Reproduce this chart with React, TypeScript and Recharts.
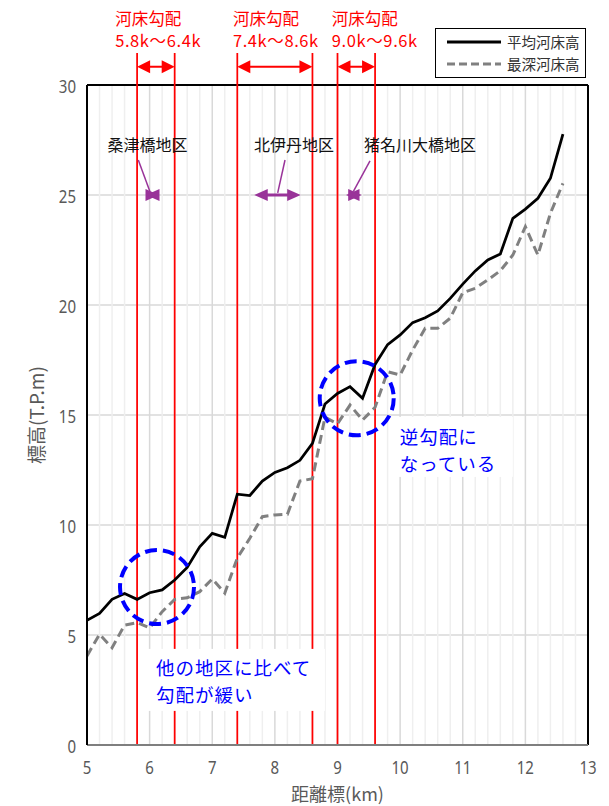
import React from 'react';
import {
  LineChart,
  Line,
  XAxis,
  YAxis,
  CartesianGrid,
  ReferenceLine,
  ReferenceDot,
  Legend,
} from 'recharts';

// ---- data ----
const km = [
  5.0, 5.2, 5.4, 5.6, 5.8, 6.0, 6.2, 6.4, 6.6, 6.8, 7.0, 7.2, 7.4, 7.6, 7.8, 8.0,
  8.2, 8.4, 8.6, 8.8, 9.0, 9.2, 9.4, 9.6, 9.8, 10.0, 10.2, 10.4, 10.6, 10.8, 11.0,
  11.2, 11.4, 11.6, 11.8, 12.0, 12.2, 12.4, 12.6,
];
const avgBed = [
  5.67, 5.98, 6.62, 6.89, 6.62, 6.92, 7.05, 7.5, 8.07, 9.01, 9.62, 9.44, 11.4, 11.34,
  12.0, 12.39, 12.6, 12.94, 13.71, 15.5, 15.98, 16.29, 15.76, 17.3, 18.2, 18.64,
  19.2, 19.42, 19.73, 20.3, 20.95, 21.55, 22.05, 22.32, 23.94, 24.36, 24.85, 25.76,
  27.77,
];
const deepBed = [
  4.05, 5.03, 4.42, 5.45, 5.56, 5.32, 6.06, 6.62, 6.69, 6.97, 7.55, 6.9, 8.5, 9.4,
  10.38, 10.46, 10.49, 12.0, 12.1, 14.9, 14.6, 15.45, 14.77, 15.35, 16.97, 16.82,
  17.95, 18.94, 18.94, 19.4, 20.56, 20.76, 21.14, 21.56, 22.27, 23.56, 22.27, 24.17,
  25.53,
];
const seriesAvgName = '平均河床高';
const seriesDeepName = '最深河床高';

const xTicks = [5, 6, 7, 8, 9, 10, 11, 12, 13];
const yTicks = [0, 5, 10, 15, 20, 25, 30];

const sections = [
  { from: 5.8, to: 6.4, label: '5.8k～6.4k', textX: 5.45 },
  { from: 7.4, to: 8.6, label: '7.4k～8.6k', textX: 7.33 },
  { from: 9.0, to: 9.6, label: '9.0k～9.6k', textX: 8.91 },
];

const districts = [
  { name: '桑津橋地区', tx: 5.966, ty: 27.32, p1: [5.819, 26.59], p2: [6.006, 25.15], a1: 5.942, a2: 6.15 },
  { name: '北伊丹地区', tx: 8.305, ty: 27.32, p1: [8.162, 26.59], p2: [8.045, 25.1], a1: 7.671, a2: 8.412 },
  { name: '猪名川大橋地区', tx: 10.317, ty: 27.32, p1: [9.519, 26.55], p2: [9.252, 25.15], a1: 9.136, a2: 9.386 },
];

const circles = [
  { x: 6.118, y: 7.18 },
  { x: 9.307, y: 15.76 },
];

const notes = [
  { lines: ['他の地区に比べて', '勾配が緩い'], x: 6.1, y: 3.55, box: [-8, -18, 177, 62] },
  { lines: ['逆勾配に', 'なっている'], x: 9.995, y: 14.05, box: [-7, -19, 120, 60] },
];

const minorGrid: number[] = [];
for (let i = 1; i < 40; i++) {
  const v = Math.round((5 + i * 0.2) * 10) / 10;
  if (Math.abs(v - Math.round(v)) > 0.01) minorGrid.push(v);
}
const majorGrid = [6, 7, 8, 9, 10, 11, 12];

const data = km.map((k, i) => ({ km: k, avg: avgBed[i], deep: deepBed[i] }));

// ---- styles ----
const JP = "'Noto Sans CJK JP', 'Noto Sans', sans-serif";
const NUM = "'Noto Sans', 'Noto Sans CJK JP', sans-serif";
const RED = '#ff0000';
const PURPLE = '#993399';
const BLUE = '#0000ff';
const AXIS_TEXT = '#595959';

const doubleArrow = (color: string, headLen: number, halfH: number, sw: number) => (p: any) => {
  const { x1, y1, x2 } = p;
  const y = y1;
  return (
    <g>
      {x2 - x1 > 2 * headLen && (
        <line x1={x1 + headLen - 1} y1={y} x2={x2 - headLen + 1} y2={y} stroke={color} strokeWidth={sw} />
      )}
      <polygon points={`${x1},${y} ${x1 + headLen},${y - halfH} ${x1 + headLen},${y + halfH}`} fill={color} />
      <polygon points={`${x2},${y} ${x2 - headLen},${y - halfH} ${x2 - headLen},${y + halfH}`} fill={color} />
    </g>
  );
};

const XTick = (p: any) => {
  const s = String(p.payload.value);
  return (
    <text
      x={p.x}
      y={p.y + 21}
      textAnchor="middle"
      dominantBaseline="central"
      fontSize={18.5}
      fill={AXIS_TEXT}
      fontFamily={NUM}
      textLength={s.length * 8.6}
      lengthAdjust="spacingAndGlyphs"
    >
      {s}
    </text>
  );
};

const YTick = (p: any) => {
  const s = String(p.payload.value);
  return (
    <text
      x={p.x - 11}
      y={p.y}
      textAnchor="end"
      dominantBaseline="central"
      fontSize={18.5}
      fill={AXIS_TEXT}
      fontFamily={NUM}
      textLength={s.length * 8.6}
      lengthAdjust="spacingAndGlyphs"
    >
      {s}
    </text>
  );
};

const LegendBox = (props: any) => {
  const payload = props.payload || [];
  return (
    <div
      style={{
        border: '1.5px solid #000',
        background: '#fff',
        width: 151,
        height: 50,
        boxSizing: 'border-box',
        paddingTop: 2,
        paddingLeft: 10,
      }}
    >
      {payload.map((e: any) => (
        <div key={e.value} style={{ display: 'flex', alignItems: 'center', height: 22 }}>
          <svg width={56} height={8}>
            <line
              x1={1}
              y1={4}
              x2={55}
              y2={4}
              stroke={e.color}
              strokeWidth={3}
              strokeDasharray={e.payload && e.payload.strokeDasharray ? '8 4' : undefined}
            />
          </svg>
          <span style={{ fontSize: 14.5, marginLeft: 5, color: '#333', fontFamily: JP, lineHeight: '22px' }}>
            {e.value}
          </span>
        </div>
      ))}
    </div>
  );
};

export default function App() {
  return (
    <div style={{ position: 'absolute', left: 0, top: 0, width: 609, height: 806, background: '#fff' }}>
      <LineChart
        width={609}
        height={806}
        data={data}
        margin={{ top: 85, right: 21, bottom: 31, left: 27 }}
      >
        <CartesianGrid horizontal vertical={false} stroke="#d9d9d9" strokeWidth={1.5} />
        {minorGrid.map((v) => (
          <ReferenceLine key={'mi' + v} x={v} stroke="#efefef" strokeWidth={1.5} />
        ))}
        {majorGrid.map((v) => (
          <ReferenceLine key={'ma' + v} x={v} stroke="#d9d9d9" strokeWidth={1.5} />
        ))}
        <XAxis
          dataKey="km"
          type="number"
          domain={[5, 13]}
          ticks={xTicks}
          allowDataOverflow
          height={30}
          tickLine={false}
          tickSize={0}
          tickMargin={0}
          axisLine={{ stroke: '#7f7f7f', strokeWidth: 2 }}
          tick={XTick}
          label={{
            content: (p: any) => {
              const vb = p.viewBox || { x: 87, y: 745, width: 501, height: 30 };
              return (
                <text
                  x={vb.x + vb.width / 2}
                  y={vb.y + vb.height + 25.5}
                  textAnchor="middle"
                  fill={AXIS_TEXT}
                  fontSize={18}
                  fontFamily={JP}
                >
                  距離標(km)
                </text>
              );
            },
          }}
        />
        <YAxis
          type="number"
          domain={[0, 30]}
          ticks={yTicks}
          width={60}
          tickLine={false}
          tickSize={0}
          tickMargin={0}
          axisLine={{ stroke: '#000', strokeWidth: 2 }}
          tick={YTick}
          label={{
            content: (p: any) => {
              const vb = p.viewBox || { x: 27, y: 85, height: 660 };
              const cx = vb.x + 8;
              const cy = vb.y + vb.height / 2;
              return (
                <text
                  x={cx}
                  y={cy}
                  transform={`rotate(-90 ${cx} ${cy})`}
                  textAnchor="middle"
                  dominantBaseline="central"
                  fill={AXIS_TEXT}
                  fontSize={19}
                  fontFamily={JP}
                >
                  標高(T.P.m)
                </text>
              );
            },
          }}
        />
        {/* top and right border */}
        <ReferenceLine y={30} stroke="#000" strokeWidth={2} />
        <ReferenceLine x={13} stroke="#000" strokeWidth={2} />

        {/* red section lines */}
        {sections.map((s) => (
          <ReferenceLine
            key={'l1' + s.label}
            segment={[{ x: s.from, y: 0 }, { x: s.from, y: 31.45 }]}
            stroke={RED}
            strokeWidth={1.75}
            ifOverflow="visible"
          />
        ))}
        {sections.map((s) => (
          <ReferenceLine
            key={'l2' + s.label}
            segment={[{ x: s.to, y: 0 }, { x: s.to, y: 31.45 }]}
            stroke={RED}
            strokeWidth={1.75}
            ifOverflow="visible"
          />
        ))}
        {sections.map((s) => (
          <ReferenceLine
            key={'ar' + s.label}
            segment={[{ x: s.from, y: 30.83 }, { x: s.to, y: 30.83 }]}
            ifOverflow="visible"
            shape={doubleArrow(RED, 13, 6.5, 2)}
          />
        ))}

        <Line
          type="linear"
          dataKey="avg"
          name={seriesAvgName}
          stroke="#000"
          strokeWidth={2.75}
          dot={false}
          isAnimationActive={false}
        />
        <Line
          type="linear"
          dataKey="deep"
          name={seriesDeepName}
          stroke="#808080"
          strokeWidth={3}
          strokeDasharray="9 5"
          dot={false}
          isAnimationActive={false}
        />

        {/* district annotations */}
        {districts.map((d) => (
          <ReferenceLine
            key={'pl' + d.name}
            segment={[{ x: d.p1[0], y: d.p1[1] }, { x: d.p2[0], y: d.p2[1] }]}
            stroke={PURPLE}
            strokeWidth={1.5}
            ifOverflow="visible"
          />
        ))}
        {districts.map((d) => (
          <ReferenceLine
            key={'pa' + d.name}
            segment={[{ x: d.a1, y: 25 }, { x: d.a2, y: 25 }]}
            ifOverflow="visible"
            shape={doubleArrow(PURPLE, 13.5, 6, 3)}
          />
        ))}
        {districts.map((d) => (
          <ReferenceDot
            key={'pt' + d.name}
            x={d.tx}
            y={d.ty}
            ifOverflow="visible"
            shape={(p: any) => (
              <text
                x={p.cx}
                y={p.cy}
                textAnchor="middle"
                dominantBaseline="central"
                fontSize={16}
                fill="#111"
                fontFamily={JP}
              >
                {d.name}
              </text>
            )}
          />
        ))}

        {/* section titles */}
        {sections.map((s) => (
          <ReferenceDot
            key={'st' + s.label}
            x={s.textX}
            y={33.05}
            ifOverflow="visible"
            shape={(p: any) => (
              <g fontFamily={JP} fontSize={16.5} fill={RED}>
                <text x={p.cx} y={p.cy} dominantBaseline="central">
                  河床勾配
                </text>
                <text x={p.cx} y={p.cy + 22} dominantBaseline="central" letterSpacing={0.6}>
                  {s.label}
                </text>
              </g>
            )}
          />
        ))}

        {/* notes with white backgrounds */}
        {notes.map((n) => (
          <ReferenceDot
            key={'n' + n.lines[0]}
            x={n.x}
            y={n.y}
            ifOverflow="visible"
            shape={(p: any) => (
              <g>
                <rect
                  x={p.cx + n.box[0]}
                  y={p.cy + n.box[1]}
                  width={n.box[2]}
                  height={n.box[3]}
                  fill="#fff"
                />
                {n.lines.map((t, i) => (
                  <text
                    key={t}
                    x={p.cx}
                    y={p.cy + i * 27}
                    dominantBaseline="central"
                    fontSize={18.5}
                    letterSpacing={1}
                    fill={BLUE}
                    fontFamily={JP}
                  >
                    {t}
                  </text>
                ))}
              </g>
            )}
          />
        ))}

        {/* dashed circles */}
        {circles.map((c) => (
          <ReferenceDot
            key={'c' + c.x}
            x={c.x}
            y={c.y}
            r={37}
            fill="none"
            stroke={BLUE}
            strokeWidth={4}
            strokeDasharray="12 6"
            ifOverflow="visible"
          />
        ))}

        <Legend
          layout="horizontal"
          verticalAlign="middle"
          align="center"
          content={LegendBox}
          wrapperStyle={{ left: 435, top: 28, width: 151, height: 50 }}
        />
      </LineChart>
    </div>
  );
}
